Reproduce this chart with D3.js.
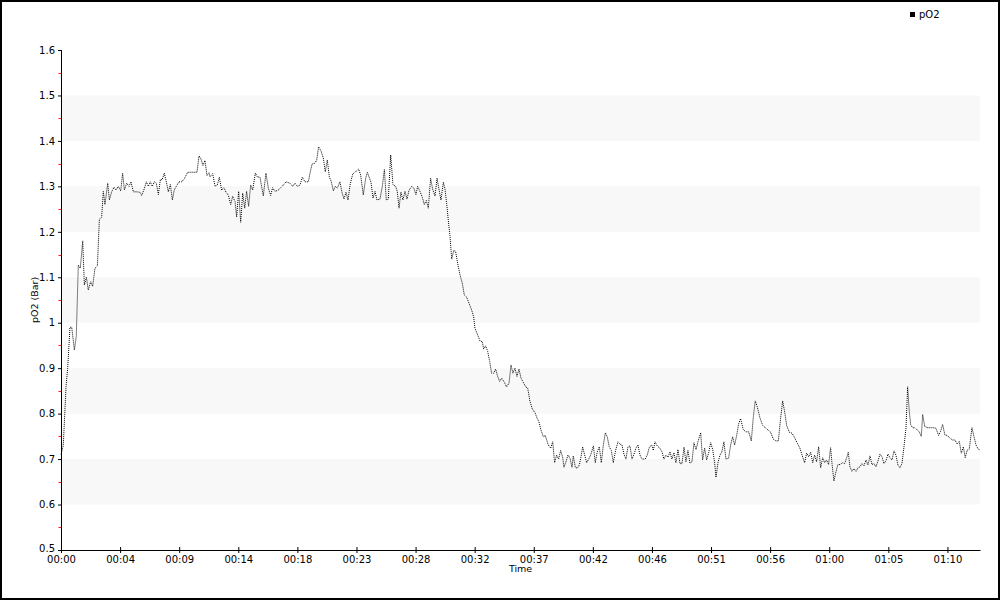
<!DOCTYPE html>
<html>
<head>
<meta charset="utf-8">
<script src="https://cdn.jsdelivr.net/npm/d3@7/dist/d3.min.js"></script>
<style>
  html, body { margin: 0; padding: 0; background: #fff; }
  svg { display: block; }
</style>
</head>
<body>
<svg id="chart" width="1000" height="600"></svg>
<script>
// ---- data (time in minutes since start, pO2 in Bar) ----
const minutes = [
  0,0.18,0.40,0.53,0.71,0.85,1.06,1.21,1.37,1.53,
  1.72,1.85,2.01,2.16,2.35,2.51,2.69,2.88,3.04,3.22,
  3.35,3.48,3.70,3.83,4.01,4.20,4.36,4.54,4.73,4.88,
  5.02,5.20,5.39,5.54,5.73,5.99,6.26,6.39,6.60,6.76,
  6.92,7.07,7.23,7.39,7.55,7.71,7.87,8.02,8.18,8.34,
  8.50,8.66,8.82,8.97,9.13,9.34,9.56,9.77,10.03,10.35,
  10.61,10.77,10.93,11.09,11.24,11.40,11.56,11.72,
  11.80,12.01,12.20,12.38,12.54,12.72,12.91,13.07,13.25,13.44,
  13.59,13.78,13.91,14.07,14.23,14.39,14.55,14.70,14.86,15.02,
  15.18,15.39,15.55,15.76,16.02,16.23,16.42,16.60,16.76,16.95,
  17.21,17.40,17.61,17.82,18.13,18.35,18.53,18.72,18.93,19.11,
  19.32,19.59,19.72,19.88,20.11,20.25,20.40,20.59,20.77,20.93,
  21.09,21.25,21.41,21.57,21.72,21.88,22.09,22.25,22.41,22.57,
  22.73,22.89,23.10,23.26,23.41,23.57,23.73,23.94,24.13,24.26,
  24.55,24.71,24.87,25.02,25.26,25.45,25.61,25.76,25.92,26.11,
  26.29,26.50,26.63,26.77,26.92,27.08,27.24,27.40,27.56,27.77,
  27.95,28.11,28.24,28.43,28.61,28.77,28.93,29.09,29.27,29.43,
  29.62,29.78,29.93,30.09,30.28,30.41,30.54,30.67,30.81,30.94,
  31.10,31.25,31.41,31.60,31.78,31.94,32.13,32.31,32.52,32.68,
  32.78,33.00,33.18,33.37,33.47,33.63,33.79,33.95,34.10,34.26,
  34.42,34.58,34.74,34.90,35.11,35.29,35.48,35.64,35.79,35.95,
  36.11,36.27,36.43,36.61,36.80,36.96,37.14,37.33,37.54,37.70,
  37.85,38.01,38.20,
  38.35,38.59,38.78,38.94,39.09,39.25,39.41,39.57,39.73,39.83,
  39.99,40.15,40.31,40.47,40.57,40.73,40.89,41.05,41.21,41.31,
  41.47,41.63,41.79,41.95,42.16,42.31,42.47,42.63,42.79,42.95,
  43.11,43.26,43.42,43.58,43.74,43.92,44.11,44.27,44.43,44.58,
  44.74,44.90,45.06,45.22,45.38,45.53,45.69,45.85,46.01,46.27,
  46.43,46.59,46.78,46.91,47.04,47.22,47.43,47.59,47.75,47.91,
  48.07,48.23,48.38,48.54,48.70,48.86,49.02,49.18,49.34,49.49,
  49.65,49.81,49.97,50.13,50.29,50.44,50.66,50.81,50.97,51.13,
  51.29,51.45,51.61,51.77,51.87,52.03,52.19,52.34,52.50,52.66,
  52.87,53.03,53.19,53.35,53.51,53.67,53.82,54.03,54.24,54.46,
  54.67,54.83,54.98,55.14,
  55.35,55.57,55.78,55.99,56.20,56.41,56.62,56.81,56.99,57.15,
  57.31,57.47,57.68,57.89,58.10,58.31,58.52,58.73,58.89,59.05,
  59.21,59.37,59.53,59.68,59.84,60.00,60.16,60.32,60.48,60.63,
  60.79,60.95,61.06,61.21,61.37,61.53,61.69,61.90,62.06,62.22,
  62.35,62.48,62.64,62.80,62.96,63.12,63.27,63.43,63.59,63.75,
  63.91,64.07,64.22,64.38,64.54,64.70,64.86,65.02,65.17,65.33,
  65.49,65.65,65.81,65.97,66.12,66.28,66.44,66.60,66.76,66.92,
  67.05,67.18,67.29,67.44,67.63,67.81,67.97,68.13,68.24,68.40,
  68.61,68.87,69.08,69.29,69.50,69.66,69.82,70.00,70.19,70.40,
  70.61,70.80,70.98,71.14,71.30,71.46,71.61,71.77,71.93,72.14,
  72.30,72.46,72.64,72.78
];
const pO2 = [
  0.71,0.73,0.86,0.90,0.99,0.99,0.94,0.97,1.127,1.12,
  1.18,1.083,1.10,1.072,1.09,1.08,1.12,1.125,1.228,1.232,
  1.289,1.26,1.307,1.27,1.288,1.298,1.292,1.30,1.29,1.329,
  1.292,1.307,1.30,1.31,1.288,1.288,1.287,1.28,1.295,1.31,
  1.30,1.31,1.30,1.31,1.307,1.282,1.315,1.315,1.329,1.31,
  1.288,1.304,1.27,1.292,1.30,1.31,1.31,1.317,1.331,1.331,
  1.331,1.331,1.367,1.36,1.346,1.357,1.324,1.33,
  1.321,1.328,1.30,1.303,1.32,1.292,1.297,1.287,1.281,1.26,
  1.278,1.267,1.233,1.289,1.221,1.285,1.252,1.289,1.256,1.303,
  1.292,1.329,1.321,1.32,1.279,1.329,1.296,1.28,1.297,1.289,
  1.292,1.297,1.303,1.31,1.307,1.30,1.307,1.30,1.303,1.32,
  1.31,1.31,1.329,1.349,1.351,1.358,1.387,1.378,1.363,1.332,
  1.358,1.321,1.31,1.29,1.30,1.296,1.31,1.287,1.272,1.287,
  1.27,1.303,1.327,1.331,1.334,1.338,1.325,1.281,1.318,1.331,
  1.309,1.274,1.289,1.27,1.272,1.30,1.337,1.27,1.272,1.369,
  1.304,1.30,1.289,1.252,1.287,1.27,1.289,1.272,1.291,1.30,
  1.296,1.282,1.30,1.289,1.276,1.26,1.269,1.252,1.318,1.294,
  1.279,1.318,1.294,1.27,1.309,1.294,1.263,1.226,1.189,1.14,
  1.159,1.157,1.131,1.105,1.087,1.061,1.056,1.043,1.028,1.013,
  0.988,0.973,0.96,0.958,0.942,0.949,0.937,0.915,0.889,0.889,
  0.898,0.882,0.871,0.878,0.869,0.859,0.867,0.907,0.889,0.90,
  0.882,0.898,0.878,0.869,0.859,0.856,0.827,0.81,0.802,0.79,
  0.782,0.764,0.749,
  0.752,0.731,0.724,0.738,0.692,0.709,0.70,0.719,0.704,0.682,
  0.694,0.709,0.702,0.682,0.707,0.682,0.68,0.687,0.709,0.727,
  0.709,0.692,0.70,0.709,0.729,0.692,0.716,0.727,0.692,0.731,
  0.758,0.749,0.727,0.719,0.692,0.719,0.738,0.733,0.731,0.711,
  0.70,0.727,0.729,0.70,0.711,0.724,0.731,0.709,0.70,0.70,
  0.709,0.726,0.731,0.719,0.738,0.729,0.724,0.716,0.70,0.709,
  0.704,0.716,0.70,0.714,0.692,0.721,0.69,0.69,0.726,0.694,
  0.719,0.691,0.694,0.736,0.721,0.738,0.758,0.698,0.724,0.698,
  0.714,0.736,0.721,0.691,0.66,0.692,0.709,0.716,0.738,0.70,
  0.702,0.731,0.749,0.731,0.752,0.778,0.789,0.765,0.76,0.76,
  0.74,0.793,0.828,0.815,
  0.791,0.774,0.769,0.764,0.759,0.744,0.74,0.74,0.79,0.828,
  0.804,0.774,0.759,0.757,0.747,0.735,0.724,0.705,0.692,0.713,
  0.705,0.715,0.692,0.709,0.694,0.727,0.681,0.703,0.692,0.698,
  0.688,0.725,0.69,0.652,0.672,0.688,0.688,0.692,0.69,0.703,
  0.715,0.683,0.673,0.679,0.673,0.681,0.683,0.69,0.685,0.698,
  0.687,0.707,0.688,0.69,0.683,0.696,0.711,0.705,0.69,0.696,
  0.711,0.703,0.698,0.718,0.709,0.687,0.681,0.69,0.727,0.769,
  0.859,0.805,0.776,0.769,0.769,0.764,0.76,0.75,0.798,0.772,
  0.769,0.769,0.769,0.768,0.752,0.761,0.776,0.753,0.752,0.746,
  0.742,0.742,0.733,0.739,0.713,0.727,0.703,0.72,0.722,0.769,
  0.75,0.731,0.722,0.72
];
const seriesName = "pO2";
const xTickLabels = ["00:00","00:04","00:09","00:14","00:18","00:23","00:28","00:32",
                     "00:37","00:42","00:46","00:51","00:56","01:00","01:05","01:10"];
const xTickStep = 4.68;      // minutes between labelled ticks
const xDomain = [0, 72.78];  // minutes
const yTicks = [0.5,0.6,0.7,0.8,0.9,1.0,1.1,1.2,1.3,1.4,1.5,1.6];
const yTickLabels = ["0.5","0.6","0.7","0.8","0.9","1","1.1","1.2","1.3","1.4","1.5","1.6"];
const yMinorTicks = [0.55,0.65,0.75,0.85,0.95,1.05,1.15,1.25,1.35,1.45,1.55];
const bandRanges = [[0.6,0.7],[0.8,0.9],[1.0,1.1],[1.2,1.3],[1.4,1.5]];

// ---- layout ----
const W = 1000, H = 600;
const m = {left: 61, right: 20, top: 50, bottom: 50};
const svg = d3.select("#chart");
const FONT = "'DejaVu Sans', Verdana, sans-serif";

const x = d3.scaleLinear().domain(xDomain).range([m.left, W - m.right]);
const y = d3.scaleLinear().domain([0.5, 1.6]).range([H - m.bottom, m.top]);

svg.append("rect").attr("width", W).attr("height", H).attr("fill", "#fff");

// alternating bands
svg.append("g").selectAll("rect").data(bandRanges).join("rect")
  .attr("x", x(xDomain[0]))
  .attr("width", x(xDomain[1]) - x(xDomain[0]))
  .attr("y", d => y(d[1]))
  .attr("height", d => y(d[0]) - y(d[1]))
  .attr("fill", "#f8f8f8");

// line
const data = minutes.map((t, i) => [t, pO2[i]]);
svg.append("path")
  .datum(data)
  .attr("fill", "none")
  .attr("stroke", "#000")
  .attr("stroke-width", 1)
  .attr("stroke-dasharray", "1,1")
  .attr("d", d3.line().x(d => x(d[0])).y(d => y(d[1])));

// y axis
const yAxis = svg.append("g")
  .attr("transform", `translate(${m.left},0)`)
  .call(d3.axisLeft(y).tickValues(yTicks)
        .tickFormat((d, i) => yTickLabels[i])
        .tickSizeInner(3).tickSizeOuter(0).tickPadding(3));
yAxis.select(".domain").attr("stroke", "#000");
yAxis.selectAll(".tick line").attr("stroke", "#000").attr("x2", -3).attr("x1", 1);
yAxis.selectAll(".tick text").attr("font-family", FONT).attr("font-size", 10).attr("fill", "#000")
  .attr("dy", (d, i) => i === 0 ? "0.1em" : "0.32em");

// red minor ticks
svg.append("g").selectAll("line").data(yMinorTicks).join("line")
  .attr("x1", m.left - 2.5).attr("x2", m.left)
  .attr("y1", d => Math.round(y(d)) + 0.5).attr("y2", d => Math.round(y(d)) + 0.5)
  .attr("stroke", "#ff1a1a").attr("stroke-width", 1);

// x axis
const xTickVals = xTickLabels.map((_, i) => i * xTickStep);
const xAxis = svg.append("g")
  .attr("transform", `translate(0,${H - m.bottom})`)
  .call(d3.axisBottom(x).tickValues(xTickVals)
        .tickFormat((d, i) => xTickLabels[i])
        .tickSizeInner(3).tickSizeOuter(0).tickPadding(2.5));
xAxis.select(".domain").attr("stroke", "#000");
xAxis.selectAll(".tick line").attr("stroke", "#000").attr("y1", -3).attr("y2", 3);
xAxis.selectAll(".tick text").attr("font-family", FONT).attr("font-size", 10).attr("fill", "#000");

// axis titles
svg.append("text")
  .attr("x", (x.range()[0] + x.range()[1]) / 2).attr("y", 572)
  .attr("text-anchor", "middle")
  .attr("font-family", FONT).attr("font-size", 9.5).attr("fill", "#000")
  .text("Time");
svg.append("text")
  .attr("transform", `translate(38,${(y.range()[0] + y.range()[1]) / 2}) rotate(-90)`)
  .attr("text-anchor", "middle")
  .attr("font-family", FONT).attr("font-size", 9.5).attr("fill", "#000")
  .text("pO2 (Bar)");

// legend
const lg = svg.append("g").attr("transform", "translate(910,12)");
lg.append("rect").attr("width", 5).attr("height", 5).attr("fill", "#000");
lg.append("text").attr("x", 9).attr("y", 2.5).attr("dy", "0.35em")
  .attr("font-family", FONT).attr("font-size", 10).attr("fill", "#000")
  .text(seriesName);

// outer frame
svg.append("rect").attr("x", 1).attr("y", 1).attr("width", W - 2).attr("height", H - 2)
  .attr("fill", "none").attr("stroke", "#000").attr("stroke-width", 2);
</script>
</body>
</html>
